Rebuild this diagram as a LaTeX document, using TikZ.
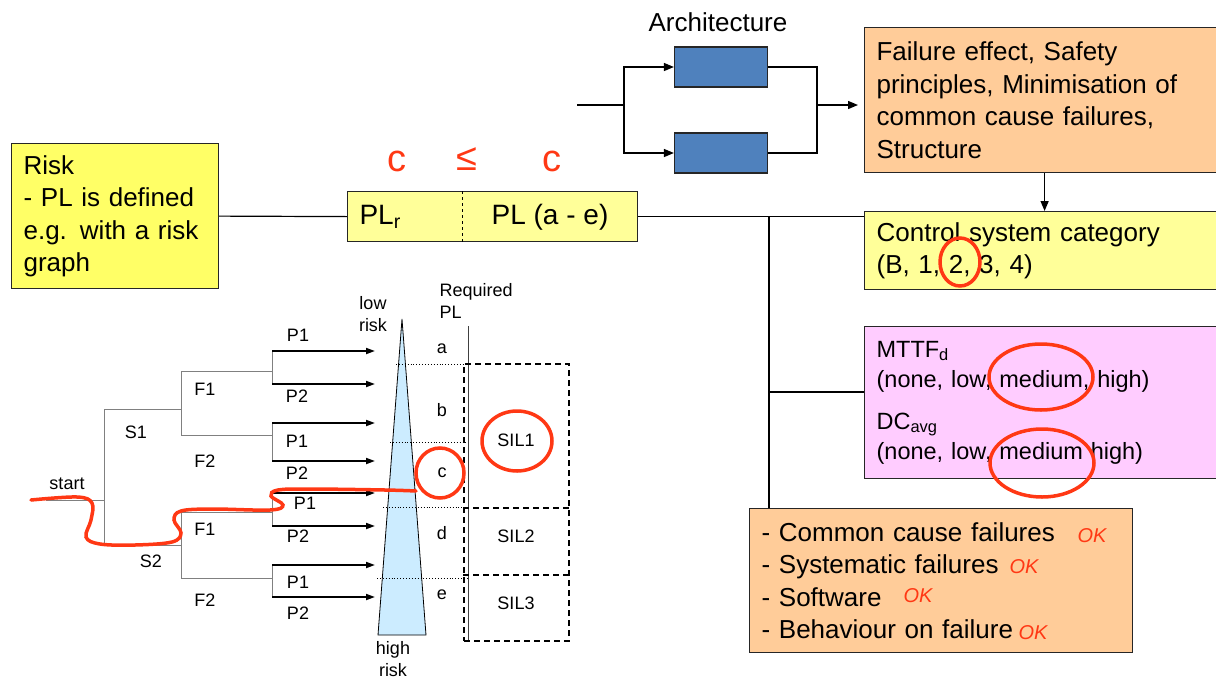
\documentclass[tikz,border=0pt]{standalone}
\usepackage{fontspec}
\setmainfont{Liberation Sans}
\usetikzlibrary{arrows.meta,positioning,calc,shapes.geometric}
\definecolor{riskyel}{HTML}{FFFF66}
\definecolor{paleyel}{HTML}{FFFF99}
\definecolor{peach}{HTML}{FFCC99}
\definecolor{pinkc}{HTML}{FFCCFF}
\definecolor{chanblue}{HTML}{4F81BD}
\definecolor{conec}{HTML}{CCECFF}
\definecolor{markc}{HTML}{FF3814}
\definecolor{treec}{HTML}{808080}
\tikzset{
  box/.style={draw=black!85,line width=1.2pt,anchor=north west,align=left,inner xsep=12pt},
  big/.style={font=\fontsize{26}{32.5}\selectfont},
  small/.style={font=\fontsize{18}{22}\selectfont},
  ar/.style={-{Triangle[length=10pt,width=8pt]},line width=1.4pt},
  parr/.style={-{Triangle[length=9pt,width=6pt]},line width=1.8pt},
  tline/.style={treec,line width=1pt},
  sildash/.style={dash pattern=on 6pt off 4pt,line width=1.2pt},
  pen/.style={markc,line width=3.5pt},
  okmark/.style={markc,font=\fontsize{20}{24}\selectfont\itshape}
}

\begin{document}
\begin{tikzpicture}[x=1pt,y=-1pt]
\clip (0,0) rectangle (1216,681);
\fill[white] (0,0) rectangle (1216,681);

% boxes on the right and left
\node[box,big,fill=riskyel,minimum width=207,minimum height=145,text width=183] (risk) at (11,143) {Risk\\- PL is defined\\e.g. with a risk\\graph};
\node[box,fill=paleyel,minimum width=290,minimum height=50] (pl) at (347,191) {};
\draw[dashed,line width=1pt] ($(pl.north west)+(115,0)$) -- ($(pl.south west)+(115,0)$);
\node[font=\fontsize{28}{32}\selectfont,anchor=west] (plr) at (356,217) {PL\textsubscript{r}};
\node[font=\fontsize{28}{32}\selectfont] (plae) at (550,217) {PL (a - e)};
\node[markc,font=\fontsize{38}{40}\selectfont] (cleft) at (397,161) {c};
\node[markc,font=\fontsize{38}{40}\selectfont] (leq) at (467,159) {≤};
\node[markc,font=\fontsize{38}{40}\selectfont] (cright) at (552,161) {c};

\node[box,big,fill=peach,minimum width=360,minimum height=145,text width=336] (fail) at (864,27) {Failure effect, Safety\\principles, Minimisation of\\common cause failures,\\Structure};
\node[box,big,fill=paleyel,minimum width=360,minimum height=78,text width=336] (ctrl) at (864,211) {Control system category\\(B, 1, 2, 3, 4)};
\node[box,font=\fontsize{23.5}{30}\selectfont,fill=pinkc,minimum width=360,minimum height=152,text width=336] (mttf) at (864,326) {MTTF\textsubscript{d}\\(none, low, medium, high)\\[12pt]DC\textsubscript{avg}\\(none, low, medium high)};
\node[box,big,fill=peach,minimum width=383,minimum height=144,text width=359] (ccf) at (749,508) {- Common cause failures\\- Systematic failures\\- Software\\- Behaviour on failure};
\node[okmark] (ok1) at (1092,536) {OK};
\node[okmark] (ok2) at (1024,567) {OK};
\node[okmark] (ok3) at (918,596) {OK};
\node[okmark] (ok4) at (1033,633) {OK};

% architecture
\node[big] (archt) at (718,22) {Architecture};
\node[draw=black!85,line width=1.2pt,fill=chanblue,minimum width=93,minimum height=40] (ch1) at (721,67) {};
\node[draw=black!85,line width=1.2pt,fill=chanblue,minimum width=93,minimum height=40] (ch2) at (721,153) {};
\coordinate (ain) at (577,105);
\coordinate (split) at (624,105);
\coordinate (merge) at (817,105);
\draw[line width=1.4pt] (ain) -- (split);
\draw[ar] (split) |- (ch1.west);
\draw[ar] (split) |- (ch2.west);
\draw[line width=1.4pt] (ch1.east) -| (merge) |- (ch2.east);
\draw[ar,shorten >=6pt] (merge) -- (merge -| fail.west);
\draw[ar] (fail.south) -- (ctrl.north);

% bus
\coordinate (jx) at (769,392);
\draw[line width=1.2pt] (risk.east) -- (pl.west);
\draw[line width=1.2pt] (pl.east) -- (pl.east -| ctrl.west);
\draw[line width=1.2pt] (pl.east -| jx) -- (jx |- ccf.north);
\draw[line width=1.2pt] (jx) -- (jx -| mttf.west);

% marks on the boxes
\draw[pen] (960,262) ellipse [x radius=20,y radius=24];
\draw[pen] (1041,377) ellipse [x radius=52,y radius=33];
\draw[pen] (1042,463) ellipse [x radius=52,y radius=34];

% risk graph
\draw[tline] (46,500) -- (104,500) (104,409) -- (104,545)
  (104,409) -- (181,409) (104,545) -- (181,545)
  (181,371) -- (181,435) (181,512) -- (181,578);
\foreach \y in {371,435,512,578} \draw[tline] (181,\y) -- (272,\y);
\draw[fill=conec,line width=0.8pt] (402,319) -- (426,635) -- (378,635) -- cycle;
\foreach \a/\b in {351/384,423/461,493/526,565/597}{
  \draw[tline] (272,\a) -- (272,\b);
  \draw[parr] (272,\a) -- (375,\a);
  \draw[parr] (272,\b) -- (375,\b);}
\foreach \x/\y in {396/364,390/442,383/507,377/578}
  \draw[dotted,line width=0.9pt] (\x,\y) -- (468,\y);
\draw[black!75,line width=1pt] (468,326) -- (468,641);
\node[draw,sildash,minimum width=105,minimum height=277] (silcol) at (516.5,502.5) {};
\draw[sildash] (silcol.west |- 0,508) -- (silcol.east |- 0,508);
\draw[sildash] (silcol.west |- 0,575) -- (silcol.east |- 0,575);
\node[small] (sil1) at (516,440) {SIL1};
\node[small] (sil2) at (516,536) {SIL2};
\node[small] (sil3) at (516,603) {SIL3};

\foreach \t/\x/\y [count=\i] in {P1/298/335,P2/297/396,P1/297/441,P2/297/473,P1/305/503,P2/298/536,P1/298/582,P2/298/613}
  \node[small] (plab\i) at (\x,\y) {\t};
\foreach \t/\y [count=\i] in {F1/389,F2/461,F1/529,F2/600}
  \node[small] (flab\i) at (205,\y) {\t};
\foreach \t/\y [count=\i] in {a/349,b/410,c/473,d/533,e/595}
  \node[small] (lvl\i) at (442,\y) {\t};
\node[small] (s1) at (136,432) {S1};
\node[small] (s2) at (151,561) {S2};
\node[small] (start) at (67,484) {start};
\node[small,align=center] (lowr) at (373,314) {low\\risk};
\node[small,align=center] (highr) at (393,659) {high\\risk};
\node[small,align=left,anchor=west] (reqpl) at (436,301) {Required\\PL};

% chosen path
\draw[pen] (440,473) ellipse [x radius=24,y radius=25];
\draw[pen] (517,441) ellipse [x radius=35,y radius=30];
\draw[pen,line cap=round] plot[smooth,tension=0.6] coordinates {(31,500) (77,497) (92,503) (91,520) (86,537) (100,544) (135,545) (172,542) (181,533) (174,520) (181,511) (212,509) (270,510) (283,505) (271,496) (278,490) (310,489) (385,490) (416,491)};
\end{tikzpicture}
\end{document}
